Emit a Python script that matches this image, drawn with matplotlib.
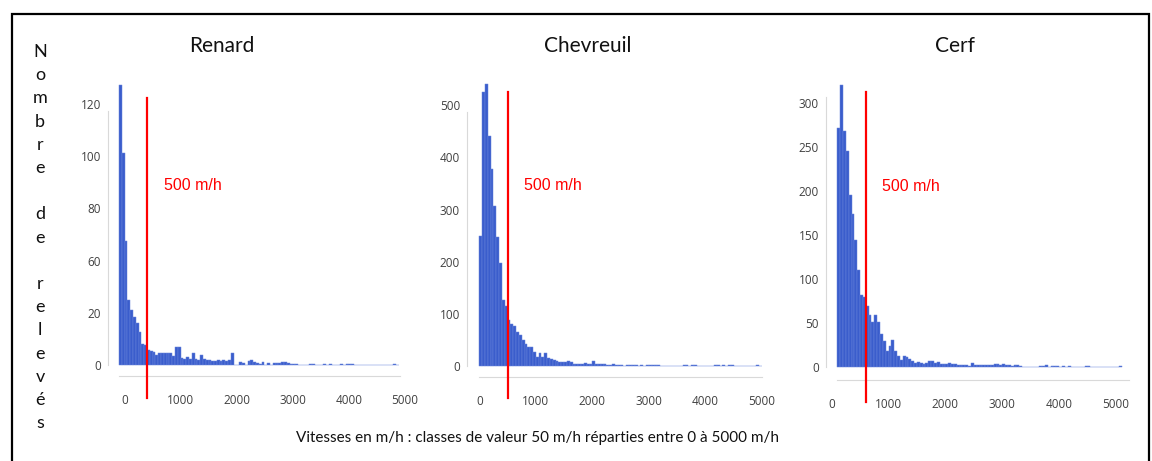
import matplotlib

matplotlib.use("Agg")
import matplotlib.pyplot as plt
import matplotlib.transforms as mtransforms
import numpy as np
from matplotlib.patches import Rectangle

# speed classes of 50 m/h between 0 and 5000 m/h (left edges)
bin_width = 50
bin_edges = np.arange(0, 5000, bin_width)

renard = [107, 81, 47.6, 25, 21, 18.5, 16, 12.7, 8.3, 7.9,
          6, 5.5, 5.1, 3.8, 4.5, 4.5, 4.5, 4.5, 4.5, 3.4,
          7, 7, 2.9, 2.5, 3.2, 2.5, 4.5, 2.5, 1.9, 4,
          2.5, 1.9, 1.9, 1.7, 1.7, 1.9, 1.7, 1.9, 1.7, 2.2,
          4.7, 0, 0, 1.3, 1, 0, 1.7, 1.9, 1.3, 1,
          0.6, 1.3, 0, 1, 0, 0.9, 1, 1, 1.3, 1.3,
          1, 0.6, 0.6, 0.6, 0, 0, 0, 0, 0.6, 0.6,
          0, 0, 0, 0.6, 0, 0.6, 0, 0, 0, 0.6,
          0, 0.6, 0.6, 0.6, 0, 0, 0, 0, 0, 0,
          0, 0, 0, 0, 0, 0, 0, 0, 0.6, 0]

chevreuil = [249, 526, 541, 441, 377, 306, 247, 197, 126, 116,
             88, 80, 76, 65, 59, 50, 43, 36, 36, 27,
             18, 25, 18, 24, 16, 14, 12, 10, 8, 8,
             8, 10, 8, 4.5, 4.5, 3, 4.5, 6, 3, 4.5,
             10, 4.5, 3, 4.5, 3, 1.5, 2, 3, 2, 1.5,
             1.5, 0, 1.5, 2.5, 1.5, 1.5, 0, 1.5, 0, 1.5,
             1.5, 2, 2.5, 2, 0, 0, 0, 0, 0, 0,
             0, 0, 1.5, 1.5, 0, 1.5, 1.5, 0, 0, 0,
             0, 0, 0, 1.5, 1.5, 0, 1.5, 0, 2, 2,
             0, 0, 0, 0, 0, 0, 0, 0, 1.5, 0]

cerf = [272, 321, 268, 246, 196, 174, 145, 111, 82, 80,
        70, 59, 52, 60, 51, 38, 30, 19, 24, 31,
        19, 13, 8, 13, 12, 10, 7, 5.3, 6.4, 5.3,
        4.2, 5.3, 7.2, 7.2, 4.5, 6.4, 4.2, 4.2, 3.4, 5.3,
        3.4, 3.4, 2.7, 2.7, 2.3, 2.3, 1.5, 5.3, 2.7, 2.3,
        3, 3, 2.3, 2.7, 3, 3.4, 4.2, 3, 4.2, 2.7,
        2.7, 1.5, 3, 2.7, 1.5, 0.8, 0, 0, 0, 0.8,
        0, 1.5, 1.5, 2.3, 0.8, 1.5, 1.5, 1.5, 0, 1.5,
        0, 1.5, 0, 0, 0, 0, 0, 1.5, 1.9, 0,
        0, 0, 0, 0, 0, 0, 0, 0, 0, 1.5]

titles = ["Renard", "Chevreuil", "Cerf"]
counts = [renard, chevreuil, cerf]
y_ticks = [[0, 20, 40, 60, 80, 100], [0, 100, 200, 300, 400, 500],
           [0, 50, 100, 150, 200, 250, 300]]
y_ticklabels = [["0", "20", "60", "80", "100", "120"],
                ["0", "100", "200", "300", "400", "500"],
                ["0", "50", "100", "150", "200", "250", "300"]]
x_ticks = [0, 1000, 2000, 3000, 4000, 5000]
threshold = 500
threshold_label = "500 m/h"
ylabel = "Nombre de relevés"
xlabel = "Vitesses en m/h : classes de valeur 50 m/h réparties entre 0 à 5000 m/h"

W, H = 1152, 461
BAR = "#3a5dcc"
EDGE = "#6a86dc"
GRID = "#d9d9d9"
TICK = "#404040"

# panel layout in pixels: left, right, top, bottom; axis limits; spine tops; label nudges
panels = [
    dict(box=(108, 400, 80, 376), xlim=(-197, 5024), ylim=(-4.1, 109.0), ytop=97,
         xbound=5024, red=(-0.074, 0.939), title_x=222, nudge=6),
    dict(box=(467, 762, 80, 377), xlim=(-217, 5000), ylim=(-21.1, 548.4), ytop=487,
         xbound=5000, red=(-0.072, 0.96), title_x=588, nudge=0),
    dict(box=(826, 1129, 80, 380), xlim=(-199, 5128), ylim=(-14.4, 326.5), ytop=307,
         xbound=5128, red=(-0.073, 0.96), title_x=955, nudge=-6),
]

fig = plt.figure(figsize=(W / 100, H / 100), dpi=100)
fig.patch.set_facecolor("white")

for p, name, vals, yt, ytl in zip(panels, titles, counts, y_ticks, y_ticklabels):
    l, r, t, b = p["box"]
    ax = fig.add_axes([l / W, (H - b) / H, (r - l) / W, (b - t) / H])
    ax.bar(bin_edges, vals, width=bin_width, align="edge", color=BAR,
           edgecolor=EDGE, linewidth=0.35)
    ax.set_xlim(*p["xlim"])
    ax.set_ylim(*p["ylim"])

    for side in ("top", "right"):
        ax.spines[side].set_visible(False)
    ax.spines["left"].set_color(GRID)
    ax.spines["bottom"].set_color(GRID)
    ax.spines["left"].set_bounds(0, p["ytop"])
    ax.spines["bottom"].set_bounds(0, p["xbound"])

    ax.set_yticks(yt)
    ax.set_yticklabels(ytl)
    ax.set_xticks(x_ticks)
    ax.set_xticklabels([str(v) for v in x_ticks])
    ax.tick_params(axis="both", length=0, labelsize=8.5, colors=TICK)
    ax.tick_params(axis="y", pad=5)
    ax.tick_params(axis="x", pad=13)
    for lab in ax.get_xticklabels() + ax.get_yticklabels():
        lab.set_fontfamily("Open Sans")
    shift = mtransforms.ScaledTranslation(p["nudge"] / 100, 0, fig.dpi_scale_trans)
    for lab in ax.get_xticklabels():
        lab.set_transform(lab.get_transform() + shift)

    ax.axvline(threshold, ymin=p["red"][0], ymax=p["red"][1], color="#ff0000",
               lw=1.6, clip_on=False, zorder=5)
    ax.annotate(threshold_label, xy=(threshold, 0.645), xycoords=("data", "axes fraction"),
                xytext=(12, 0), textcoords="offset points", va="center", ha="left",
                color="#ff0000", fontsize=11.5, family="Liberation Sans")

    fig.text(p["title_x"] / W, (H - 46) / H, name, ha="center", va="center",
             fontsize=15, family="Lato", color="#111111")

# vertical y label, one letter per line
for i, ch in enumerate(ylabel):
    if ch == " ":
        continue
    fig.text(40 / W, (H - 57 - i * 23.2) / H, ch, ha="center", va="baseline",
             fontsize=13, family="Lato", color="#111111")

fig.text(538 / W, (H - 438) / H, xlabel, ha="center", va="center",
         fontsize=11, family="Lato", color="#111111")

# outer frame
fig.patches.append(Rectangle((12 / W, -0.1), (1149 - 12) / W, (H - 14) / H + 0.1,
                             transform=fig.transFigure, fill=False, edgecolor="black",
                             linewidth=1.6))

fig.savefig("out.png", dpi=100)
